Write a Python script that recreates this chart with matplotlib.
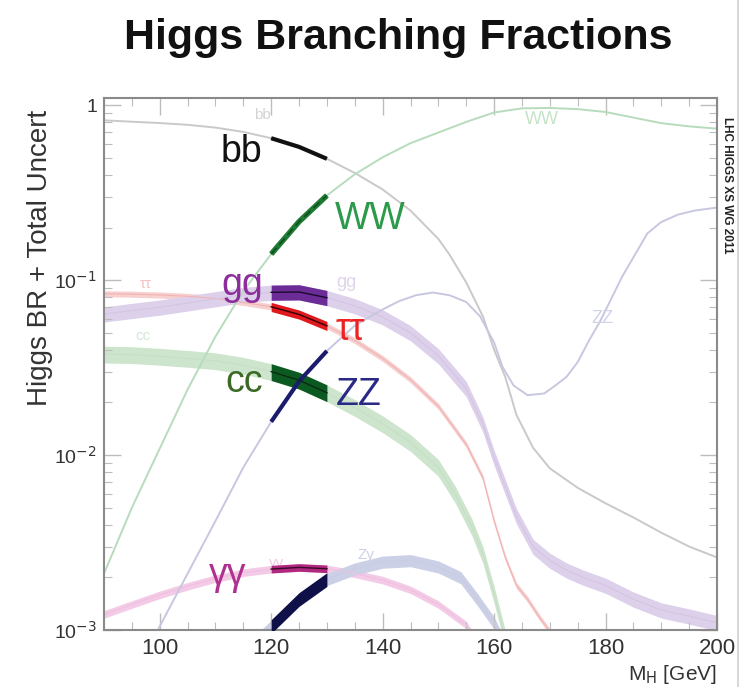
import numpy as np
import matplotlib
matplotlib.use("Agg")
import matplotlib.pyplot as plt
from matplotlib.lines import Line2D
from matplotlib.ticker import LogLocator, FixedLocator, MultipleLocator, NullFormatter

plt.rcParams['font.family'] = ['Liberation Sans', 'DejaVu Sans']

# ---------------- data ----------------
mass_bb = [90, 95, 100, 105, 110, 115, 120, 125, 130, 135, 140, 145, 150, 152,
           155, 158, 160, 162, 164, 167, 170, 175, 180, 185, 190, 195, 200]
br_bb = [0.82, 0.805, 0.791, 0.773, 0.745, 0.704, 0.648, 0.578, 0.494, 0.41,
         0.33, 0.25, 0.172, 0.14, 0.097, 0.062, 0.04, 0.028, 0.017, 0.011,
         0.0084, 0.0065, 0.0053, 0.0044, 0.0036, 0.003, 0.0026]

mass_ww = [90, 95, 100, 105, 110, 115, 120, 125, 130, 135, 140, 145, 150, 155,
           160, 165, 170, 175, 180, 185, 190, 195, 200]
br_ww = [0.0021, 0.005, 0.0109, 0.0237, 0.0476, 0.0868, 0.141, 0.216, 0.305,
         0.403, 0.504, 0.607, 0.698, 0.803, 0.909, 0.960, 0.965, 0.950, 0.915,
         0.85, 0.79, 0.757, 0.735]

mass_tautau = [90, 95, 100, 105, 110, 115, 120, 125, 130, 135, 140, 145, 150,
               155, 158, 160, 162, 164, 166, 168, 170, 175, 180]
br_tautau = [0.0836, 0.0832, 0.0823, 0.0809, 0.0786, 0.0746, 0.0704, 0.0637,
             0.0548, 0.0452, 0.0357, 0.027, 0.019, 0.0115, 0.0074, 0.0042,
             0.0026, 0.0018, 0.0015, 0.0012, 0.00098, 0.0008, 0.00065]

mass_cc = [90, 95, 100, 105, 110, 115, 120, 125, 130, 135, 140, 145, 150, 153,
           156, 158, 160, 162, 165]
br_cc = [0.0378, 0.0375, 0.0367, 0.0357, 0.0346, 0.0326, 0.0300, 0.0268, 0.0227,
         0.0187, 0.0151, 0.0118, 0.0085, 0.006, 0.0039, 0.0027, 0.0016, 0.0009,
         0.0006]

mass_gg = [90, 95, 100, 105, 110, 115, 120, 125, 130, 135, 140, 145, 150, 155,
           158, 160, 162, 164, 167, 170, 173, 176, 180, 185, 190, 195, 200]
br_gg = [0.064, 0.067, 0.0700, 0.0740, 0.0782, 0.0826, 0.0852, 0.0856, 0.0794,
         0.0713, 0.0616, 0.0500, 0.0369, 0.024, 0.015, 0.0097, 0.0066, 0.0045,
         0.003, 0.0025, 0.0022, 0.002, 0.0018, 0.0015, 0.0013, 0.0012, 0.0011]

mass_gamgam = [90, 95, 100, 105, 110, 115, 120, 125, 130, 135, 140, 145, 150,
               155, 160, 165]
br_gamgam = [0.00123, 0.0014, 0.00159, 0.00178, 0.00197, 0.00213, 0.00223,
             0.00228, 0.00224, 0.0021, 0.00193, 0.0017, 0.0014, 0.00107,
             0.0006, 0.0002]

mass_zgam = [110, 115, 120, 125, 130, 135, 140, 145, 150, 154, 157, 160, 163]
br_zgam = [0.00044, 0.00075, 0.00105, 0.0015, 0.00195, 0.00224, 0.00245,
           0.0025, 0.0023, 0.002, 0.0015, 0.0011, 0.0007]

mass_zz = [90, 95, 100, 105, 110, 115, 120, 125, 130, 135, 140, 143, 146, 149,
           152, 155, 157.5, 160, 161.5, 163.5, 166, 169, 171, 173, 175, 177,
           179, 181, 183, 185, 187.5, 190, 193, 196, 200]
br_zz = [0.00025, 0.0005, 0.00105, 0.0021, 0.0042, 0.0085, 0.0155, 0.0264,
         0.0394, 0.055, 0.068, 0.076, 0.082, 0.085, 0.082, 0.075, 0.062, 0.044,
         0.032, 0.025, 0.022, 0.0225, 0.025, 0.028, 0.034, 0.045, 0.058, 0.078,
         0.105, 0.135, 0.185, 0.215, 0.237, 0.25, 0.26]

# relative band half-widths (total uncertainty)
unc = {'bb': 0.03, 'WW': 0.03, 'tautau': 0.04, 'cc': 0.11, 'gg': 0.10,
       'gamgam': 0.05, 'Zgam': 0.08, 'ZZ': 0.03}

hl_range = (120, 130)

# ---------------- figure ----------------
fig = plt.figure(figsize=(7.49, 6.87), dpi=100)
ax = fig.add_axes([104/749, 1-630/687, (717-104)/749, (630-98)/687])
ax.set_yscale('log')
ax.set_xlim(90, 200)
ax.set_ylim(1e-3, 1.1)

series = [
    ('bb', mass_bb, br_bb, '#c9c9c9', None, '#111111', 0.0, None),
    ('WW', mass_ww, br_ww, '#b7dcbc', None, '#1f7a34', 0.0, None),
    ('tautau', mass_tautau, br_tautau, '#f2b2b2', '#f7d0d0', '#e0191e', 0.06, '#330000'),
    ('cc', mass_cc, br_cc, '#c6dfc6', '#cde4cd', '#0b5a22', 0.11, '#0a2a10'),
    ('gg', mass_gg, br_gg, '#d4c6e3', '#ddd0ea', '#6b2c97', 0.10, '#1a0a2a'),
    ('gamgam', mass_gamgam, br_gamgam, '#f0bfe0', '#f4cbe6', '#b0287f', 0.05, '#3a0a2a'),
    ('Zgam', mass_zgam, br_zgam, '#c9cce2', '#ccd0e6', '#101048', 0.09, None),
    ('ZZ', mass_zz, br_zz, '#c7c8e0', None, '#1c1c6e', 0.0, None),
]

for key, x, y, lc, bc, hc, hw, cc in series:
    x = np.asarray(x, float)
    y = np.asarray(y, float)
    u = unc[key]
    if bc is not None:
        ax.fill_between(x, y*(1-u), y*(1+u), color=bc, lw=0, zorder=1)
        ax.plot(x, y, color=lc, lw=0.8, zorder=2)
    else:
        ax.plot(x, y, color=lc, lw=1.4, zorder=2)
    m = (x >= hl_range[0]) & (x <= hl_range[1])
    if hw > 0:
        ax.fill_between(x[m], y[m]*(1-hw), y[m]*(1+hw), color=hc, lw=0, zorder=4)
        if cc is not None:
            ax.plot(x[m], y[m], color=cc, lw=1.0, zorder=5)
    else:
        lw = 3.0 if key in ('bb', 'ZZ') else 4.0
        ax.plot(x[m], y[m], color=hc, lw=lw, zorder=4, solid_capstyle='butt')
        if key == 'WW':
            ax.plot(x[m], y[m], color='#0a4a1a', lw=1.0, ls=(0, (6, 3)), zorder=5)

# big labels
big = dict(fontsize=27, zorder=6)
ax.text(118.5, 0.54, 'bb', color='#111111', ha='right', va='center', **big)
ax.text(131.5, 0.225, 'WW', color='#2b9a4b', ha='left', va='center', **big)
ax.text(118.5, 0.094, 'gg', color='#8b2d9b', ha='right', va='center', **big)
ax.text(131.5, 0.052, 'ττ', color='#ee2222', ha='left', va='center', **big)
ax.text(118.5, 0.026, 'cc', color='#3b6a25', ha='right', va='center', **big)
ax.text(131.5, 0.022, 'ZZ', color='#2a2a86', ha='left', va='center', **big)
ax.text(115.5, 0.00205, 'γγ', color='#b0308f', ha='right', va='center', **big)

# faded small labels
small = dict(fontsize=11, zorder=3, ha='center', va='center')
ax.text(118.5, 0.88, 'bb', color='#d4d4d4', **small)
ax.text(168.5, 0.83, 'WW', color='#c5e2c8', fontsize=13, ha='center', va='center')
ax.text(97.5, 0.095, 'ττ', color='#f6c4c4', **small)
ax.text(133.5, 0.097, 'gg', color='#e0d4ec', fontsize=13, ha='center', va='center')
ax.text(97, 0.048, 'cc', color='#d6e8d6', **small)
ax.text(179.5, 0.06, 'ZZ', color='#d0d2e8', fontsize=13, ha='center', va='center')
ax.text(121, 0.0024, 'γγ', color='#f4cce6', **small)
ax.text(137, 0.0027, 'Zγ', color='#ccd0e8', **small)

# axes styling
for s in ax.spines.values():
    s.set_color('#8a8a8a')
    s.set_linewidth(1.5)
ax.xaxis.set_major_locator(FixedLocator([100, 120, 140, 160, 180, 200]))
ax.xaxis.set_minor_locator(MultipleLocator(5))
ax.yaxis.set_major_locator(LogLocator(base=10, numticks=10))
ax.yaxis.set_minor_locator(LogLocator(base=10, subs=np.arange(2, 10), numticks=20))
ax.yaxis.set_minor_formatter(NullFormatter())
ax.tick_params(which='both', direction='in', top=True, right=True, colors='#bdbdbd')
ax.tick_params(which='major', length=12, width=1.0, labelsize=16, labelcolor='#333333', pad=6)
ax.tick_params(which='minor', length=6, width=0.8)
ax.set_yticks([1e-3, 1e-2, 1e-1, 1])
ax.set_yticklabels([r'10$^{-3}$', r'10$^{-2}$', r'10$^{-1}$', '1'])
ax.tick_params(axis='y', which='major', labelsize=14, pad=5)

fig.text(40/749, 1-258/687, 'Higgs BR + Total Uncert', rotation=90, fontsize=20,
         color='#333333', ha='center', va='center')
fig.text(717/749, 1-675/687, r'M$_{\rm H}$ [GeV]', fontsize=15, color='#333333',
         ha='right', va='center')
fig.text(398/749, 1-38/687, 'Higgs Branching Fractions', fontsize=31,
         fontweight='bold', color='#111111', ha='center', va='center')
fig.text(727/749, 1-185/687, 'LHC HIGGS XS WG 2011', rotation=-90, fontsize=8.5,
         fontweight='bold', color='#222222', ha='center', va='center')

fig.add_artist(Line2D([738/749, 738/749], [0, 1], transform=fig.transFigure,
                      color='#d0d0d0', lw=1.2))

fig.savefig('out.png', dpi=100)
